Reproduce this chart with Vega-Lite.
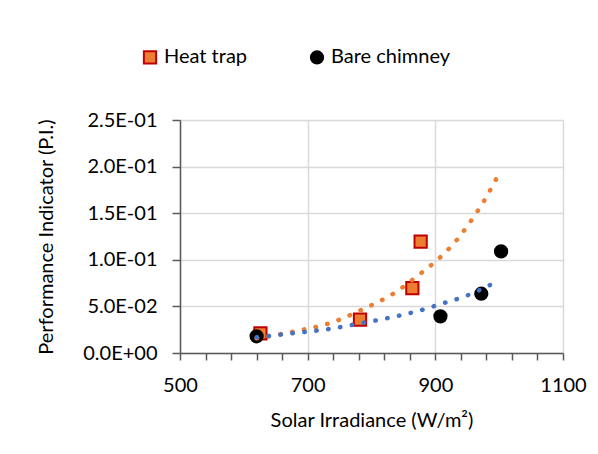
{
  "$schema": "https://vega.github.io/schema/vega-lite/v6.json",
  "width": 383,
  "height": 233,
  "autosize": {"type": "none"},
  "padding": {"left": 180, "top": 120, "right": 35, "bottom": 101},
  "background": "white",
  "config": {
    "font": "Lato",
    "view": {"stroke": null},
    "axis": {
      "domainColor": "#595959",
      "domainWidth": 1.5,
      "tickColor": "#595959",
      "tickWidth": 1.5,
      "labelColor": "#000000",
      "labelFontSize": 20,
      "labelFont": "Lato",
      "labelOverlap": false,
      "titleFont": "Lato",
      "titleFontSize": 20,
      "titleFontWeight": "normal",
      "titleColor": "#000000",
      "gridColor": "#D9D9D9",
      "gridWidth": 1.5
    },
    "legend": {
      "orient": "none",
      "legendX": -40,
      "legendY": -73,
      "direction": "horizontal",
      "labelFontSize": 20,
      "labelFont": "Lato",
      "labelColor": "#000000",
      "symbolSize": 150,
      "symbolStrokeWidth": 2,
      "labelOffset": 4,
      "columnPadding": 58
    }
  },
  "datasets": {
    "pts": [
      {"series": "Heat trap", "irradiance": 626, "pi": 0.021},
      {"series": "Heat trap", "irradiance": 782, "pi": 0.0357},
      {"series": "Heat trap", "irradiance": 864, "pi": 0.0696},
      {"series": "Heat trap", "irradiance": 877, "pi": 0.1196},
      {"series": "Bare chimney", "irradiance": 620, "pi": 0.0179},
      {"series": "Bare chimney", "irradiance": 908, "pi": 0.0393},
      {"series": "Bare chimney", "irradiance": 972, "pi": 0.0636},
      {"series": "Bare chimney", "irradiance": 1003, "pi": 0.109}
    ],
    "trend": [
      {"series": "Heat trap", "irradiance": 620, "pi": 0.0158},
      {"series": "Heat trap", "irradiance": 679, "pi": 0.0232},
      {"series": "Heat trap", "irradiance": 735, "pi": 0.0321},
      {"series": "Heat trap", "irradiance": 787, "pi": 0.0471},
      {"series": "Heat trap", "irradiance": 834, "pi": 0.0636},
      {"series": "Heat trap", "irradiance": 877, "pi": 0.0854},
      {"series": "Heat trap", "irradiance": 905, "pi": 0.101},
      {"series": "Heat trap", "irradiance": 932, "pi": 0.12},
      {"series": "Heat trap", "irradiance": 955, "pi": 0.141},
      {"series": "Heat trap", "irradiance": 977, "pi": 0.164},
      {"series": "Heat trap", "irradiance": 996, "pi": 0.1875},
      {"series": "Bare chimney", "irradiance": 620, "pi": 0.0168},
      {"series": "Bare chimney", "irradiance": 679, "pi": 0.0214},
      {"series": "Bare chimney", "irradiance": 739, "pi": 0.0263},
      {"series": "Bare chimney", "irradiance": 779, "pi": 0.0314},
      {"series": "Bare chimney", "irradiance": 818, "pi": 0.0364},
      {"series": "Bare chimney", "irradiance": 875, "pi": 0.0454},
      {"series": "Bare chimney", "irradiance": 908, "pi": 0.0525},
      {"series": "Bare chimney", "irradiance": 946, "pi": 0.0607},
      {"series": "Bare chimney", "irradiance": 993, "pi": 0.0754}
    ]
  },
  "layer": [
    {
      "data": {"name": "pts"},
      "mark": {"type": "point", "filled": true, "opacity": 1, "strokeWidth": 2, "size": 150},
      "encoding": {
        "x": {
          "field": "irradiance", "type": "quantitative",
          "scale": {"domain": [500, 1100], "nice": false, "zero": false},
          "axis": {
            "values": [500, 540, 580, 620, 660, 700, 740, 780, 820, 860, 900, 940, 980, 1020, 1060, 1100],
            "tickCount": 40,
            "format": "d",
            "labelExpr": "datum.value % 200 == 100 ? datum.label : ''",
            "gridColor": {"condition": {"test": "datum.value % 200 == 100", "value": "#D9D9D9"}, "value": null},
            "tickSize": 7,
            "labelPadding": 15,
            "labelFlush": false,
            "title": "Solar Irradiance (W/m²)",
            "titlePadding": 15
          }
        },
        "y": {
          "field": "pi", "type": "quantitative",
          "scale": {"domain": [0, 0.25], "nice": false},
          "axis": {
            "values": [0, 0.05, 0.1, 0.15, 0.2, 0.25],
            "tickCount": 20,
            "format": ".1e",
            "labelExpr": "replace(replace(upper(datum.label), 'E-', 'E-0'), 'E+', 'E+0')",
            "tickSize": 8,
            "labelPadding": 15,
            "title": "Performance Indicator (P.I.)",
            "titlePadding": 26
          }
        },
        "shape": {
          "field": "series", "type": "nominal",
          "scale": {"domain": ["Heat trap", "Bare chimney"], "range": ["square", "circle"]},
          "legend": {"title": null}
        },
        "fill": {
          "field": "series", "type": "nominal",
          "scale": {"domain": ["Heat trap", "Bare chimney"], "range": ["#ED7D31", "#000000"]},
          "legend": {"title": null}
        },
        "stroke": {
          "field": "series", "type": "nominal",
          "scale": {"domain": ["Heat trap", "Bare chimney"], "range": ["#C00000", "#000000"]},
          "legend": {"title": null}
        }
      }
    },
    {
      "data": {"name": "trend"},
      "transform": [{"filter": "datum.series === 'Heat trap'"}],
      "mark": {"type": "line", "color": "#ED7D31", "strokeWidth": 4.5, "strokeDash": [0.5, 11.5], "strokeCap": "round", "interpolate": "monotone"},
      "encoding": {
        "x": {"field": "irradiance", "type": "quantitative"},
        "y": {"field": "pi", "type": "quantitative"}
      }
    },
    {
      "data": {"name": "trend"},
      "transform": [{"filter": "datum.series === 'Bare chimney'"}],
      "mark": {"type": "line", "color": "#4472C4", "strokeWidth": 4.5, "strokeDash": [0.5, 11.5], "strokeCap": "round", "interpolate": "monotone"},
      "encoding": {
        "x": {"field": "irradiance", "type": "quantitative"},
        "y": {"field": "pi", "type": "quantitative"}
      }
    }
  ]
}
